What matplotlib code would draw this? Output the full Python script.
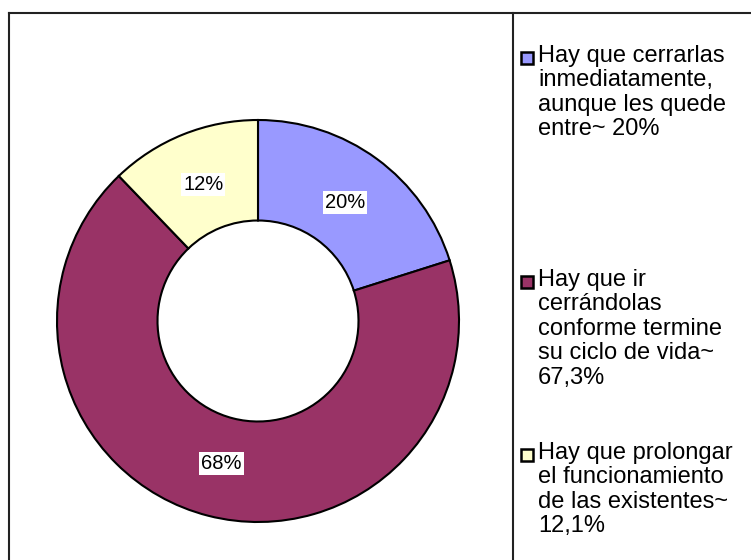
import matplotlib
matplotlib.use("Agg")
import matplotlib.pyplot as plt
from matplotlib.lines import Line2D
from matplotlib.patches import Rectangle

plt.rcParams['font.family'] = ['Liberation Sans', 'DejaVu Sans']

# data
labels = [
    "Hay que cerrarlas\ninmediatamente,\naunque les quede\nentre~ 20%",
    "Hay que ir\ncerrándolas\nconforme termine\nsu ciclo de vida~\n67,3%",
    "Hay que prolongar\nel funcionamiento\nde las existentes~\n12,1%",
]
values = [20, 67.3, 12.1]
colors = ['#9999FF', '#993366', '#FFFFCC']

W, H = 751, 560
fig = plt.figure(figsize=(W / 100, H / 100), dpi=100)

# donut: centre (258, 321) px, radius 201 px
cx, cy, r = 258, 321, 201
ax = fig.add_axes([(cx - r) / W, (H - cy - r) / H, 2 * r / W, 2 * r / H])
wedges, texts, autotexts = ax.pie(
    values, colors=colors, startangle=90, counterclock=False,
    autopct='%1.0f%%', pctdistance=0.73,
    wedgeprops=dict(width=0.5, edgecolor='black', linewidth=1.5),
    textprops=dict(fontsize=14.5, color='black'),
)
for t in autotexts:
    t.set_bbox(dict(facecolor='white', edgecolor='none', pad=1.5))
ax.set_xlim(-1, 1)
ax.set_ylim(-1, 1)
ax.set_aspect('equal')
ax.axis('off')

# frame lines
def px_line(x0, y0, x1, y1):
    fig.add_artist(Line2D([x0 / W, x1 / W], [1 - y0 / H, 1 - y1 / H],
                          color='#222222', linewidth=1.5))

px_line(9, 13, W, 13)
px_line(9, 13, 9, H)
px_line(513, 13, 513, H)

# legend drawn by hand (cap-top y of first line, px)
legend_caps = [50, 274, 447]
for lab, col, cap in zip(labels, colors, legend_caps):
    fig.add_artist(Rectangle((521 / W, 1 - (cap + 14) / H), 12 / W, 12 / H,
                             facecolor=col, edgecolor='black', linewidth=1.8,
                             transform=fig.transFigure))
    fig.text(538 / W, 1 - (cap - 5) / H, lab, fontsize=17, va='top',
             ha='left', linespacing=1.145)

fig.savefig('out.png', dpi=100)
